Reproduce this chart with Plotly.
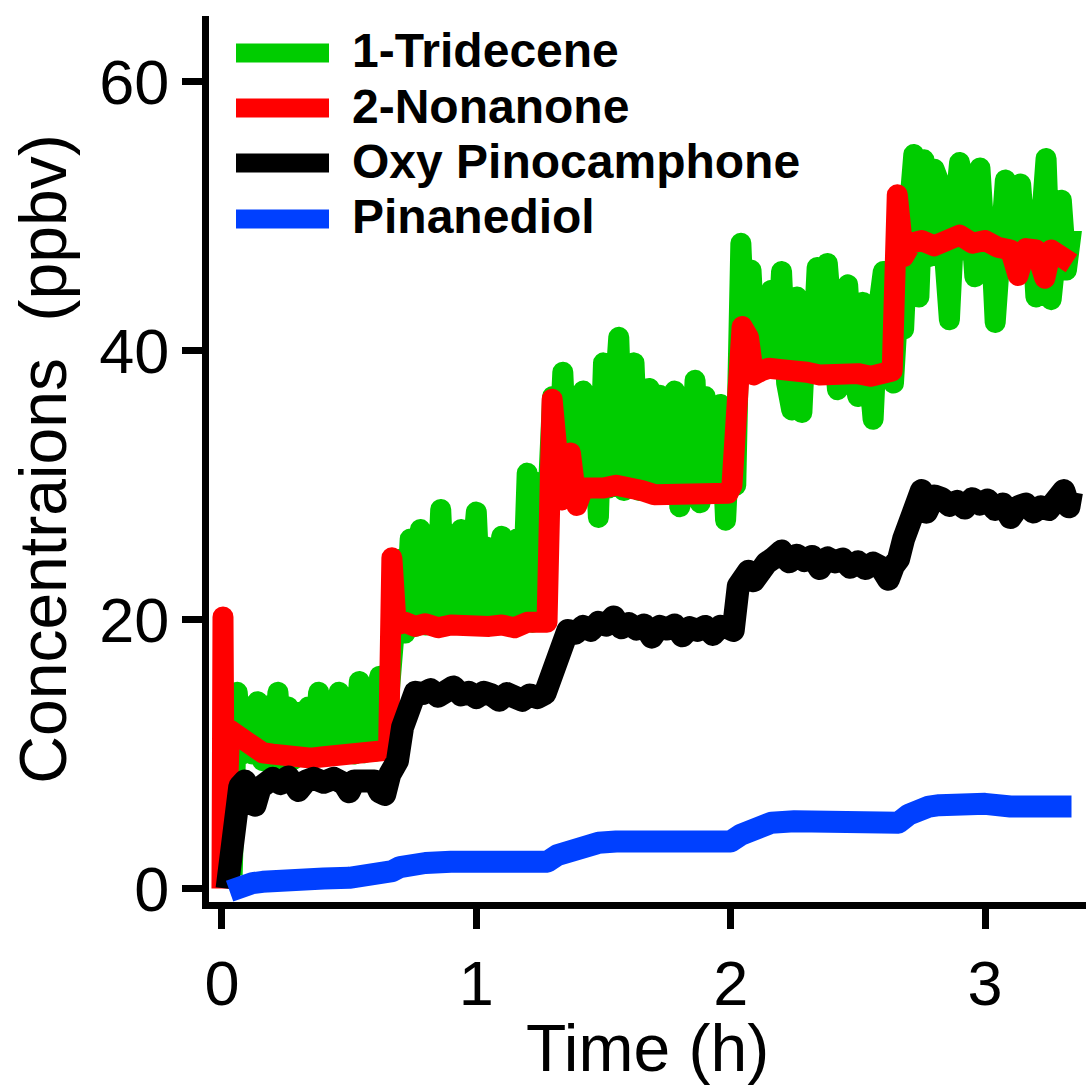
import plotly.graph_objects as go

# ---------------- data ----------------
series_names = ["1-Tridecene", "2-Nonanone", "Oxy Pinocamphone", "Pinanediol"]
series_colors = ["#00CC00", "#FF0000", "#000000", "#0040FF"]

tridecene_t = [0.04, 0.06, 0.08, 0.10, 0.12, 0.14, 0.16, 0.18, 0.20, 0.22, 0.24, 0.26, 0.28, 0.30,
               0.32, 0.34, 0.36, 0.38, 0.40, 0.42, 0.44, 0.46, 0.48, 0.50, 0.52, 0.54, 0.56, 0.58,
               0.60, 0.62, 0.64, 0.66, 0.68, 0.70, 0.72, 0.74, 0.76, 0.78, 0.80, 0.82, 0.84, 0.86,
               0.88, 0.90, 0.92, 0.94, 0.96, 0.98, 1.00, 1.02, 1.04, 1.06, 1.08, 1.10, 1.12, 1.14,
               1.16, 1.18, 1.20, 1.22, 1.24, 1.26, 1.28, 1.30, 1.32, 1.34, 1.36, 1.38, 1.40, 1.42,
               1.44, 1.46, 1.48, 1.50, 1.52, 1.54, 1.56, 1.58, 1.60, 1.62, 1.64, 1.66, 1.68, 1.70,
               1.72, 1.74, 1.76, 1.78, 1.80, 1.82, 1.84, 1.86, 1.88, 1.90, 1.92, 1.94, 1.96, 1.98,
               2.00, 2.02, 2.04, 2.06, 2.08, 2.10, 2.12, 2.14, 2.16, 2.18, 2.20, 2.22, 2.24, 2.26,
               2.28, 2.30, 2.32, 2.34, 2.36, 2.38, 2.40, 2.42, 2.44, 2.46, 2.48, 2.50, 2.52, 2.54,
               2.56, 2.58, 2.60, 2.62, 2.64, 2.66, 2.68, 2.70, 2.72, 2.74, 2.76, 2.78, 2.80, 2.82,
               2.84, 2.86, 2.88, 2.90, 2.92, 2.94, 2.96, 2.98, 3.00, 3.02, 3.04, 3.06, 3.08, 3.10,
               3.12, 3.14, 3.16, 3.18, 3.20, 3.22, 3.24, 3.26, 3.28, 3.30, 3.32, 3.34]
tridecene_v = [1.0, 14.6, 10.0, 13.5, 10.0, 13.9, 9.5, 13.6, 9.5, 14.6, 9.6, 13.5, 9.6, 13.1,
               10.0, 13.5, 10.0, 14.6, 10.0, 13.8, 10.0, 14.6, 10.0, 13.2, 10.0, 15.4, 10.1, 14.0,
               10.2, 15.8, 10.5, 16.2, 18.0, 24.5, 19.0, 26.0, 19.5, 26.7, 19.6, 25.5, 19.6, 28.2,
               19.6, 26.0, 19.7, 26.7, 19.6, 25.0, 28.0, 19.6, 25.4, 19.7, 24.5, 26.2, 19.6, 24.0,
               26.0, 19.7, 30.9, 19.8, 30.2, 20.0, 29.0, 36.6, 30.0, 38.4, 30.0, 35.5, 29.8, 37.0,
               29.8, 35.5, 27.6, 39.1, 29.8, 36.5, 41.0, 29.6, 37.5, 39.1, 29.6, 36.0, 37.2, 29.5,
               36.7, 29.5, 35.0, 37.0, 28.4, 35.5, 29.4, 37.8, 28.7, 36.6, 29.4, 35.5, 36.0, 27.4,
               35.0, 30.0, 48.0, 39.0, 46.0, 38.8, 44.0, 38.8, 44.5, 38.7, 45.9, 37.6, 35.6, 44.0,
               35.4, 43.5, 38.6, 46.2, 38.6, 46.5, 38.5, 37.1, 44.0, 44.9, 38.5, 36.6, 43.6, 38.5,
               34.9, 43.0, 45.9, 38.4, 37.6, 44.0, 41.6, 50.0, 54.6, 44.0, 54.2, 47.0, 53.5, 52.5,
               47.5, 42.3, 50.0, 54.0, 47.5, 51.0, 45.5, 53.6, 47.5, 50.0, 42.1, 50.5, 52.7, 47.5,
               50.0, 52.4, 47.5, 50.5, 44.0, 51.0, 54.3, 43.8, 48.0, 51.2, 46.0, 49.0]

nonanone_t = [0.000, 0.004, 0.010, 0.030, 0.06, 0.09, 0.12, 0.16, 0.20, 0.25, 0.30, 0.35, 0.40,
              0.45, 0.50, 0.55, 0.60, 0.64, 0.655, 0.668, 0.685, 0.72, 0.76, 0.80, 0.85, 0.90,
              0.95, 1.00, 1.05, 1.10, 1.15, 1.20, 1.25, 1.278, 1.298, 1.335, 1.37, 1.395, 1.42,
              1.46, 1.50, 1.55, 1.60, 1.65, 1.70, 1.75, 1.80, 1.85, 1.90, 1.95, 1.99, 2.005,
              2.025, 2.045, 2.07, 2.09, 2.12, 2.15, 2.20, 2.25, 2.30, 2.35, 2.40, 2.45, 2.50,
              2.55, 2.60, 2.635, 2.655, 2.68, 2.71, 2.75, 2.80, 2.85, 2.90, 2.95, 3.00, 3.05,
              3.10, 3.13, 3.16, 3.20, 3.235, 3.26, 3.30, 3.34]
nonanone_v = [0.0, 20.2, 1.0, 11.8, 11.4, 10.6, 10.3, 10.1, 10.0, 9.8, 9.7, 9.7, 9.8,
              9.9, 9.8, 9.9, 10.0, 10.0, 10.3, 24.6, 19.6, 19.8, 19.5, 19.7, 19.4, 19.6,
              19.5, 19.7, 19.5, 19.6, 19.4, 19.8, 19.6, 19.8, 36.4, 28.9, 32.4, 28.5, 29.8,
              29.6, 29.8, 30.0, 29.6, 29.6, 29.3, 29.3, 29.2, 29.3, 29.2, 29.3, 29.4, 30.0,
              41.3, 41.8, 41.0, 38.2, 38.5, 38.7, 38.6, 38.3, 38.4, 38.2, 38.3, 38.2, 38.3,
              38.1, 38.3, 38.5, 51.6, 47.0, 48.0, 48.2, 47.8, 48.3, 48.6, 48.0, 48.2, 47.7,
              47.5, 45.6, 47.6, 47.5, 45.4, 47.5, 47.2, 46.5]

oxy_t = [0.020, 0.035, 0.05, 0.07, 0.09, 0.11, 0.13, 0.15, 0.17, 0.20, 0.23, 0.26, 0.29, 0.30,
         0.33, 0.36, 0.40, 0.44, 0.48, 0.50, 0.52, 0.56, 0.60, 0.62, 0.64, 0.66, 0.69, 0.71,
         0.73, 0.76, 0.79, 0.82, 0.85, 0.88, 0.91, 0.94, 0.97, 1.00, 1.03, 1.06, 1.09, 1.12,
         1.15, 1.18, 1.21, 1.24, 1.27, 1.29, 1.31, 1.34, 1.36, 1.39, 1.42, 1.45, 1.48, 1.51,
         1.54, 1.57, 1.60, 1.63, 1.66, 1.69, 1.72, 1.75, 1.78, 1.81, 1.84, 1.87, 1.90, 1.93,
         1.96, 1.99, 2.01, 2.03, 2.05, 2.07, 2.09, 2.11, 2.14, 2.17, 2.20, 2.23, 2.26, 2.29,
         2.32, 2.35, 2.38, 2.41, 2.44, 2.47, 2.50, 2.53, 2.56, 2.59, 2.62, 2.64, 2.66, 2.68,
         2.70, 2.72, 2.75, 2.77, 2.80, 2.83, 2.86, 2.89, 2.92, 2.95, 2.98, 3.01, 3.04, 3.07,
         3.10, 3.13, 3.16, 3.19, 3.22, 3.25, 3.28, 3.31, 3.33, 3.34]
oxy_v = [0.0, 3.0, 6.5, 7.6, 8.0, 7.3, 6.2, 7.5, 7.9, 8.2, 7.8, 8.3, 7.6, 7.3,
         8.0, 8.2, 7.9, 8.2, 7.8, 7.2, 8.0, 7.9, 8.0, 7.2, 7.0, 8.5, 9.5, 12.0,
         13.8, 14.6, 14.5, 14.8, 14.3, 14.5, 15.0, 14.4, 14.6, 14.2, 14.6, 14.4, 14.0, 14.5,
         14.3, 14.0, 14.4, 14.2, 14.5, 15.5, 17.2, 17.8, 19.2, 19.0, 19.5, 19.2, 19.8, 19.6,
         20.2, 19.4, 19.7, 19.3, 19.6, 18.7, 19.5, 19.3, 19.6, 18.8, 19.4, 19.2, 19.5, 18.9,
         19.5, 19.4, 19.2, 22.5, 23.5, 23.6, 22.9, 23.8, 24.2, 24.6, 25.1, 24.3, 24.8, 24.4,
         24.7, 23.8, 24.6, 24.3, 24.5, 23.9, 24.3, 23.8, 24.2, 23.9, 23.0, 24.0, 24.5, 26.0,
         27.2, 27.8, 29.6, 28.0, 29.2, 29.0, 28.5, 28.8, 28.3, 29.0, 28.6, 28.9, 28.2, 28.6,
         27.6, 28.4, 28.6, 28.0, 28.4, 28.2, 29.2, 29.6, 28.4, 29.5]

pinanediol_t = [0.03, 0.05, 0.08, 0.12, 0.16, 0.20, 0.30, 0.40, 0.50, 0.58, 0.63, 0.67, 0.70,
                0.74, 0.80, 0.90, 1.00, 1.10, 1.20, 1.28, 1.32, 1.36, 1.40, 1.44, 1.48, 1.55,
                1.65, 1.75, 1.85, 1.95, 2.00, 2.04, 2.08, 2.12, 2.16, 2.25, 2.35, 2.45, 2.55,
                2.62, 2.66, 2.70, 2.74, 2.78, 2.82, 2.90, 3.00, 3.10, 3.20, 3.30, 3.34]
pinanediol_v = [-0.2, 0.0, 0.2, 0.4, 0.5, 0.6, 0.7, 0.75, 0.8, 0.9, 1.0, 1.3, 1.6,
                1.8, 1.9, 2.0, 2.0, 2.0, 1.9, 2.0, 2.5, 2.8, 2.9, 3.2, 3.4, 3.5,
                3.5, 3.4, 3.4, 3.4, 3.5, 4.0, 4.3, 4.6, 4.9, 5.0, 4.9, 4.9, 4.8,
                4.7, 4.9, 5.5, 5.9, 6.1, 6.2, 6.3, 6.3, 6.1, 6.1, 6.0, 6.1]

x_ticks = [0, 1, 2, 3]
y_ticks = [0, 20, 40, 60]
x_title = "Time (h)"
y_title = "Concentraions\u00a0 (ppbv)"

# ---------------- layout constants ----------------
W, H = 1088, 1085
ML, MR, MT, MB = 209, 2, 16, 183
PW, PH = W - ML - MR, H - MT - MB
FONT = "Liberation Sans, Arial, sans-serif"
trace_widths = [21, 21, 23, 22]

fig = go.Figure()
all_t = [tridecene_t, nonanone_t, oxy_t, pinanediol_t]
all_v = [tridecene_v, nonanone_v, oxy_v, pinanediol_v]
for name, col, lw, tt, vv in zip(series_names, series_colors, trace_widths, all_t, all_v):
    fig.add_trace(go.Scatter(x=tt, y=vv, mode="lines", name=name,
                             line=dict(color=col, width=lw), showlegend=False))

# manual legend (thick swatches like the reference)
leg_x0_px, leg_x1_px, leg_text_px = 236, 329, 350
leg_y_px = [53, 108, 163, 219]
shapes, annotations = [], []
for name, col, ypx in zip(series_names, series_colors, leg_y_px):
    yp = (H - MB - ypx) / PH
    shapes.append(dict(type="line", xref="paper", yref="paper",
                       x0=(leg_x0_px - ML) / PW, x1=(leg_x1_px - ML) / PW, y0=yp, y1=yp,
                       line=dict(color=col, width=19)))
    annotations.append(dict(xref="paper", yref="paper", x=(leg_text_px - ML) / PW,
                            y=(H - MB - ypx + 2) / PH,
                            xanchor="left", yanchor="middle", showarrow=False,
                            text="<b>%s</b>" % name,
                            font=dict(family=FONT, size=48, color="black")))

axis_common = dict(showgrid=False, zeroline=False, showline=True, linecolor="black",
                   linewidth=7, ticks="outside", ticklen=20, tickwidth=7, tickcolor="black",
                   tickfont=dict(family=FONT, size=63, color="black"))

fig.update_layout(
    width=W, height=H,
    margin=dict(l=ML, r=MR, t=MT, b=MB),
    plot_bgcolor="white", paper_bgcolor="white",
    showlegend=False,
    font=dict(family=FONT, color="black"),
    xaxis=dict(range=[-0.051, 3.397], tickmode="array", tickvals=x_ticks,
               ticktext=[str(v) for v in x_ticks],
               title=dict(text=x_title, font=dict(family=FONT, size=66), standoff=6),
               **axis_common),
    yaxis=dict(range=[-1.0, 64.9], tickmode="array", tickvals=y_ticks,
               ticktext=[str(v) for v in y_ticks],
               title=dict(text=y_title, font=dict(family=FONT, size=66), standoff=14),
               **axis_common),
    shapes=shapes,
    annotations=annotations,
)

post = ("document.body.style.margin = '0';"
        "var st = document.createElement('style');"
        "st.textContent = '.scatterlayer path.js-line { stroke-linejoin: round !important; }';"
        "document.head.appendChild(st);")
fig.write_html("out.html", post_script=post, config={"displayModeBar": False})
